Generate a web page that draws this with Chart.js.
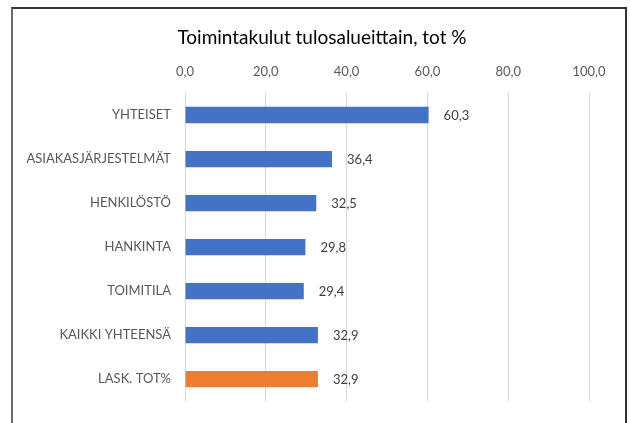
<!DOCTYPE html>
<html>
<head>
<meta charset="utf-8">
<script src="https://cdn.jsdelivr.net/npm/chart.js@4"></script>
<style>
  html, body { margin: 0; padding: 0; background: #fff; }
  #wrap { position: relative; width: 630px; height: 423px; overflow: hidden; }
  #frame { position: absolute; left: 11px; top: 7px; width: 612px; height: 440px;
           border: 2px solid #6b6b6b; border-top-color: #333; border-right-color: #333; }
  canvas { position: absolute; left: 0; top: 0; }
</style>
</head>
<body>
<div id="wrap">
  <div id="frame"></div>
  <canvas id="chart" width="630" height="423"></canvas>
</div>
<script>
// Tiedot
const chartTitle = 'Toimintakulut tulosalueittain, tot %';
const categories = ['YHTEISET', 'ASIAKASJÄRJESTELMÄT', 'HENKILÖSTÖ', 'HANKINTA', 'TOIMITILA', 'KAIKKI YHTEENSÄ', 'LASK. TOT%'];
const values = [60.3, 36.4, 32.5, 29.8, 29.4, 32.9, 32.9];
const barColors = ['#4472C4', '#4472C4', '#4472C4', '#4472C4', '#4472C4', '#4472C4', '#ED7D31'];
const xTicks = [0, 20, 40, 60, 80, 100];

const fmt = v => Number(v).toFixed(1).replace('.', ',');

// otsikko ja arvot palkkien perään
const extras = {
  id: 'extras',
  afterDatasetsDraw(chart) {
    const ctx = chart.ctx;
    const meta = chart.getDatasetMeta(0);
    ctx.save();
    ctx.font = '13px Lato';
    ctx.fillStyle = '#404040';
    ctx.textAlign = 'left';
    ctx.textBaseline = 'middle';
    meta.data.forEach((bar, i) => {
      ctx.fillText(fmt(values[i]), bar.x + 15, bar.y + 1);
    });
    ctx.font = '19px Lato';
    ctx.fillStyle = '#000';
    ctx.textAlign = 'center';
    ctx.fillText(chartTitle, 322, 38);
    ctx.restore();
  }
};

new Chart(document.getElementById('chart'), {
  type: 'bar',
  data: {
    labels: categories,
    datasets: [{
      data: values,
      backgroundColor: barColors,
      categoryPercentage: 1,
      barPercentage: 0.37
    }]
  },
  options: {
    indexAxis: 'y',
    responsive: false,
    animation: false,
    layout: { padding: { left: 0, right: 41, top: 50, bottom: 17 } },
    plugins: {
      legend: { display: false },
      tooltip: { enabled: false }
    },
    scales: {
      x: {
        position: 'top',
        min: 0,
        max: 100,
        afterBuildTicks: s => { s.ticks = xTicks.map(v => ({ value: v })); },
        afterFit: s => { s.height = 43; },
        grid: { color: '#d9d9d9', drawTicks: false },
        border: { display: false },
        ticks: {
          padding: 13,
          color: '#595959',
          font: { family: 'Lato', size: 13 },
          callback: v => fmt(v)
        }
      },
      y: {
        afterFit: s => { s.width = 185; },
        grid: { display: false, drawTicks: false },
        border: { display: false },
        ticks: {
          padding: 14,
          color: '#595959',
          font: { family: 'Lato', size: 13 }
        }
      }
    }
  },
  plugins: [extras]
});
</script>
</body>
</html>
